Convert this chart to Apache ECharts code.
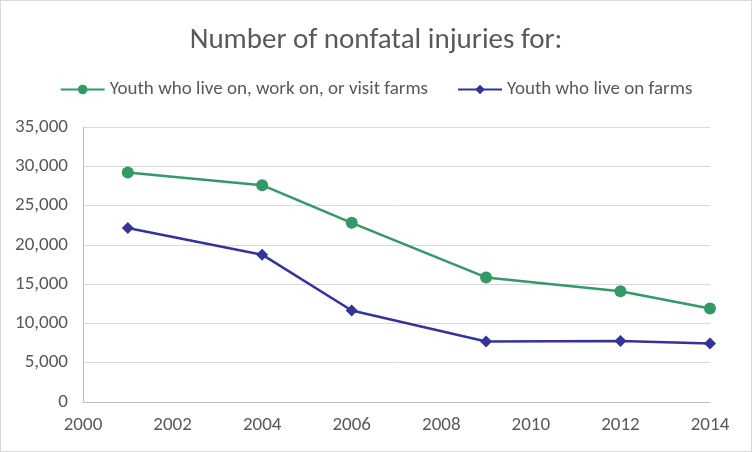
<!DOCTYPE html>
<html><head><meta charset="utf-8">
<script src="https://cdn.jsdelivr.net/npm/echarts@6/dist/echarts.min.js"></script>
<style>html,body{margin:0;padding:0;background:#fff}#c{width:752px;height:452px;box-sizing:border-box;border:1px solid #d9d9d9}</style>
</head><body><div id="c"></div>
<script>
const years = [2001, 2004, 2006, 2009, 2012, 2014];
const visitFarms = [29200, 27600, 22800, 15850, 14100, 11900];
const liveFarms = [22150, 18750, 11650, 7700, 7750, 7450];
const seriesNames = ['Youth who live on, work on, or visit farms', 'Youth who live on farms'];
const titleText = 'Number of nonfatal injuries for:';

const chart = echarts.init(document.getElementById('c'));
const font = 'Calibri, Carlito, Lato, sans-serif';
chart.setOption({
  animation: false,
  title: { text: titleText, left: 'center', top: 20, textStyle: { fontFamily: font, fontSize: 29, fontWeight: 'normal', color: '#595959' } },
  legend: { top: 74, left: 'center', itemGap: 29, itemWidth: 44, itemHeight: 12,
    textStyle: { fontFamily: font, fontSize: 19, color: '#595959' }, data: seriesNames },
  grid: { left: 82, right: 41, top: 126, bottom: 49 },
  xAxis: { type: 'value', min: 2000, max: 2014, interval: 2,
    axisLine: { show: true, lineStyle: { color: '#bfbfbf', width: 1 } },
    axisTick: { show: false }, splitLine: { show: false },
    axisLabel: { fontFamily: font, fontSize: 19, color: '#595959', margin: 14, formatter: v => String(v) } },
  yAxis: { type: 'value', min: 0, max: 35000, interval: 5000,
    axisLine: { show: true, lineStyle: { color: '#bfbfbf', width: 1 } },
    axisTick: { show: false },
    splitLine: { lineStyle: { color: '#d9d9d9', width: 1 } },
    axisLabel: { fontFamily: font, fontSize: 19, color: '#595959', margin: 15,
      formatter: v => v.toLocaleString('en-US') } },
  series: [
    { name: seriesNames[0], type: 'line', data: years.map((y, i) => [y, visitFarms[i]]),
      symbol: 'circle', symbolSize: 12, itemStyle: { color: '#339966' }, lineStyle: { width: 2.5, color: '#339966' } },
    { name: seriesNames[1], type: 'line', data: years.map((y, i) => [y, liveFarms[i]]),
      symbol: 'diamond', symbolSize: 12, itemStyle: { color: '#333399' }, lineStyle: { width: 2.5, color: '#333399' } }
  ]
});
</script></body></html>
